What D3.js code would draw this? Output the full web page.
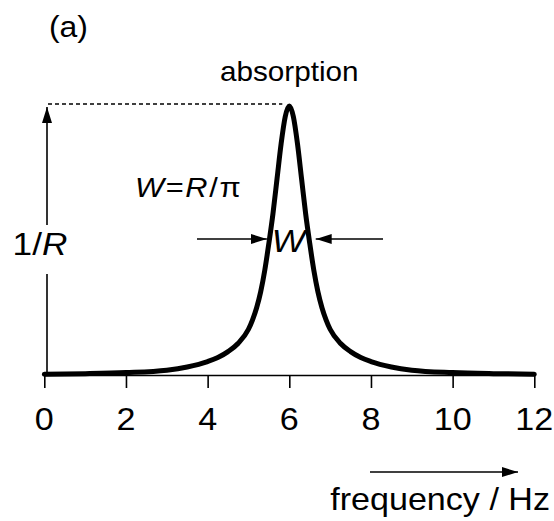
<!DOCTYPE html>
<html>
<head>
<meta charset="utf-8">
<script src="https://cdn.jsdelivr.net/npm/d3@7"></script>
<style>
  html, body { margin: 0; padding: 0; background: #fff; }
  svg { display: block; }
  text { font-family: "Liberation Sans", Arial, Helvetica, sans-serif; fill: #000; }
</style>
</head>
<body>
<svg id="chart" width="554" height="521"></svg>
<script>
// ---- data ----
const freq = [0, 1, 2, 3, 3.5, 4, 4.25, 4.5, 4.75, 5, 5.1, 5.2, 5.3, 5.4, 5.5, 5.6, 5.7, 5.8, 5.9, 6,
              6.1, 6.2, 6.3, 6.4, 6.5, 6.6, 6.7, 6.8, 6.9, 7, 7.25, 7.5, 7.75, 8, 8.5, 9, 10, 11, 12];
const absorption = [0.003, 0.005, 0.009, 0.018, 0.03, 0.05, 0.065, 0.087, 0.118, 0.17, 0.205, 0.25, 0.31, 0.39, 0.49, 0.6, 0.73, 0.86, 0.96, 1.0,
                    0.96, 0.86, 0.73, 0.6, 0.49, 0.39, 0.31, 0.25, 0.205, 0.17, 0.118, 0.087, 0.065, 0.05, 0.03, 0.018, 0.009, 0.005, 0.003];
const tickValues = [0, 2, 4, 6, 8, 10, 12];
const peakFreq = 6;
const halfWidthLeft = 5.5, halfWidthRight = 6.5;

// ---- setup ----
const svg = d3.select("#chart");
const x = d3.scaleLinear().domain([0, 12]).range([44.3, 534.3]);
const y = d3.scaleLinear().domain([0, 1]).range([375, 106]);
const SX = 1.1; // horizontal stretch of the lettering

function label(g, px, py, size, anchor) {
  return g.append("text")
    .attr("transform", `translate(${px},${py}) scale(${SX},1)`)
    .attr("text-anchor", anchor)
    .style("font-size", size + "px");
}

// arrow marker
const defs = svg.append("defs");
defs.append("marker")
  .attr("id", "ah").attr("viewBox", "0 0 16 10")
  .attr("refX", 16).attr("refY", 5)
  .attr("markerWidth", 16).attr("markerHeight", 10)
  .attr("markerUnits", "userSpaceOnUse")
  .attr("orient", "auto")
  .append("path").attr("d", "M0,0 L16,5 L0,10 Z").attr("fill", "#000");

// ---- x axis ----
const axis = d3.axisBottom(x).tickValues(tickValues).tickSize(13).tickSizeOuter(0).tickPadding(0).tickFormat(() => "");
const gx = svg.append("g").attr("transform", `translate(0,${y(0)})`).call(axis);
gx.select(".domain").attr("stroke", "#000").attr("stroke-width", 1.6);
gx.selectAll(".tick line").attr("stroke", "#000").attr("stroke-width", 1.6);
tickValues.forEach(v => label(svg, x(v), 430, 31, "middle").text(v));

// ---- curve ----
const line = d3.line().x((d, i) => x(freq[i])).y(d => y(d)).curve(d3.curveMonotoneX);
svg.append("path")
  .attr("d", line(absorption))
  .attr("fill", "none").attr("stroke", "#000")
  .attr("stroke-width", 5).attr("stroke-linecap", "round").attr("stroke-linejoin", "round");

// ---- vertical 1/R arrow ----
const vx = 47;
svg.append("line").attr("x1", vx).attr("x2", vx).attr("y1", y(0)).attr("y2", 274)
  .attr("stroke", "#000").attr("stroke-width", 1.6);
svg.append("line").attr("x1", vx).attr("x2", vx).attr("y1", 225).attr("y2", 107)
  .attr("stroke", "#000").attr("stroke-width", 1.6).attr("marker-end", "url(#ah)");
const tR = label(svg, 40, 255, 32, "middle");
tR.append("tspan").text("1/");
tR.append("tspan").style("font-style", "italic").text("R");

// dotted line at peak height
svg.append("line").attr("x1", 48).attr("x2", x(peakFreq) - 7).attr("y1", 104).attr("y2", 104)
  .attr("stroke", "#000").attr("stroke-width", 1.7).attr("stroke-dasharray", "4,3");

// ---- width arrows at half height ----
const hy = 239;
svg.append("line").attr("x1", 197).attr("x2", x(halfWidthLeft) - 2).attr("y1", hy).attr("y2", hy)
  .attr("stroke", "#000").attr("stroke-width", 1.6).attr("marker-end", "url(#ah)");
svg.append("line").attr("x1", 383).attr("x2", x(halfWidthRight) + 6).attr("y1", hy).attr("y2", hy)
  .attr("stroke", "#000").attr("stroke-width", 1.6).attr("marker-end", "url(#ah)");
label(svg, x(peakFreq) - 1, 252, 32, "middle").style("font-style", "italic").text("W");

// W = R/π
const tW = label(svg, 135, 197, 28, "start").style("letter-spacing", "1.5px");
tW.append("tspan").style("font-style", "italic").text("W");
tW.append("tspan").text("=");
tW.append("tspan").style("font-style", "italic").text("R");
tW.append("tspan").text("/π");

// ---- titles ----
label(svg, 49, 37, 29, "start").text("(a)");
label(svg, x(peakFreq), 81, 27, "middle").text("absorption");

// frequency arrow and label
svg.append("line").attr("x1", 370).attr("x2", 518).attr("y1", 472).attr("y2", 472)
  .attr("stroke", "#000").attr("stroke-width", 1.6).attr("marker-end", "url(#ah)");
label(svg, 550, 510, 31, "end").text("frequency / Hz");
</script>
</body>
</html>
